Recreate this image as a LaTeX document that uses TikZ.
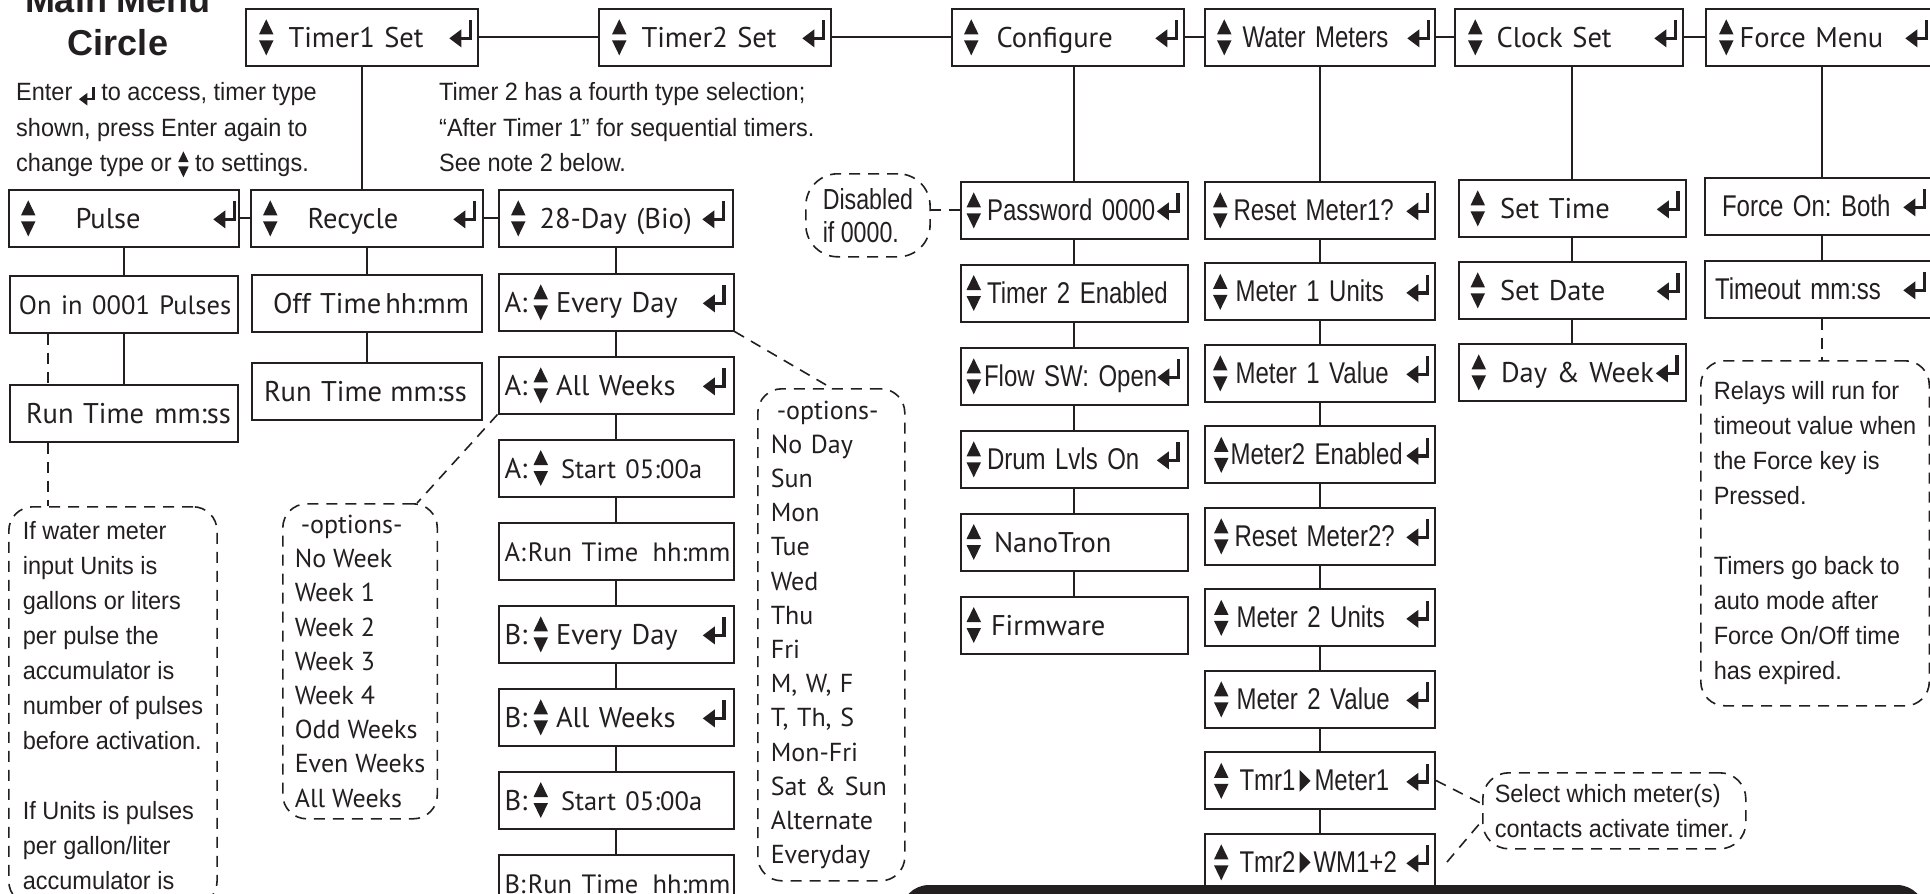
\documentclass[tikz,border=0pt]{standalone}
\usepackage{fontspec}
\setmainfont{PT Sans}
\newfontfamily\narrowfont[FakeStretch=0.80]{Liberation Sans}
\newfontfamily\notefont[FakeStretch=0.94]{Liberation Sans}
\newfontfamily\headfont{Liberation Sans}
\usetikzlibrary{positioning}
\definecolor{ink}{HTML}{231F20}
\frenchspacing

% key glyphs shown on the display
\newcommand{\updn}[1][1]{\tikz[x=#1pt,y=#1pt,baseline=0pt]{\fill[ink] (0,13)--(14.5,13)--(7.25,28)--cycle (0,7)--(14.5,7)--(7.25,-8)--cycle;}}
\newcommand{\entr}[1][1]{\tikz[x=#1pt,y=#1pt,baseline=0pt]{\fill[ink] (0,9)--(12,18)--(12,0)--cycle; \draw[ink,line width=#1*3.4pt,line join=miter] (21,27)--(21,9)--(10,9);}}
\newcommand{\rtri}{\tikz[x=1pt,y=1pt,baseline=0pt]{\fill[ink] (0,-1)--(0,21)--(11,10)--cycle;}}
\newcommand{\nw}[1]{{\narrowfont\fontsize{30}{34}\selectfont #1}}
\newcommand{\sm}[1]{{\fontsize{26.5}{34}\selectfont #1}}
\newcommand{\lrow}[1]{\hbox to\linewidth{\vrule height28pt depth8pt width0pt\relax#1}}

\begin{document}
\begin{tikzpicture}[x=1pt, y=-1pt, ink,
    menu/.style={draw=ink, fill=white, line width=2pt, inner sep=0pt, minimum height=57pt, text width=#1, font=\fontsize{28.5}{34}\selectfont},
    menu/.default=230pt,
    link/.style={draw=ink, line width=1.8pt},
    dashlink/.style={draw=ink, line width=1.6pt, dash pattern=on 11pt off 8pt},
    note/.style={draw=ink, line width=1.6pt, dash pattern=on 11pt off 8pt, rounded corners=24pt, align=left, anchor=north west, inner ysep=0pt, font=\notefont\fontsize{25}{35}\selectfont},
    optlist/.style={note, font=\fontsize{26}{34.2}\selectfont},
    plain/.style={align=left, anchor=base west, inner sep=0pt, font=\notefont\fontsize{25}{35.5}\selectfont}
  ]
  \useasboundingbox (0,0) rectangle (1930,894);
  \clip (0,0) rectangle (1930,894);

  % main menu circle
  \node[font=\headfont\bfseries\fontsize{36}{43}\selectfont, align=center, anchor=base] (title) at (118,55) {Main Menu\\Circle};
  \node[menu=232pt] (t1) at (362,37) {\lrow{\hskip13pt\updn\hskip15pt Timer1 Set\hfill\entr\hskip6pt}};
  \node[menu=232pt, right=119pt of t1] (t2) {\lrow{\hskip13pt\updn\hskip15pt Timer2 Set\hfill\entr\hskip6pt}};
  \node[menu=232pt, right=119pt of t2] (conf) {\lrow{\hskip12pt\updn\hskip18pt Configure\hfill\entr\hskip6pt}};
  \node[menu, right=19pt of conf] (wm) {\lrow{\hskip12pt\updn\hskip11pt\nw{Water Meters}\hfill\entr\hskip5pt}};
  \node[menu=228pt, right=18pt of wm] (clk) {\lrow{\hskip13pt\updn\hskip14pt Clock Set\hfill\entr\hskip6pt}};
  \node[menu=232pt, right=21pt of clk] (frc) {\lrow{\hskip13pt\updn\hskip6pt Force Menu\hfill\entr\hskip10pt}};

  \node[plain] (hint1) at (16,171.5) {Enter \raisebox{-5pt}{\entr[.7]} to access, timer type\\shown, press Enter again to\\change type or \updn[.72] to settings.};
  \node[plain] (hint2) at (439,171.5) {Timer 2 has a fourth type selection;\\“After Timer 1” for sequential timers.\\See note 2 below.};

  % timer types
  \node[menu] (pulse) at (124,218) {\lrow{\hskip12pt\updn\hskip40pt Pulse\hfill\entr\hskip3pt}};
  \node[menu=232pt, right=10pt of pulse] (recyc) {\lrow{\hskip12pt\updn\hskip30pt Recycle\hfill\entr\hskip7pt}};
  \node[menu=234pt, right=14pt of recyc] (bio) {\lrow{\hskip12pt\updn\hskip14pt 28-Day (Bio)\hfill\entr\hskip8pt}};

  % pulse
  \node[menu=228pt, below=27pt of pulse] (on) {\lrow{\hskip9pt\sm{On in 0001 Pulses}\hfill}};
  \node[menu=228pt, below=50pt of on] (run1) {\lrow{\hskip16pt Run Time\hfill mm:ss\hskip7pt}};
  \node[note, inner xsep=14pt, inner ysep=15pt] (wnote) at (8,506) {If water meter\\input Units is\\gallons or liters\\per pulse the\\accumulator is\\number of pulses\\before activation.\\[35pt]If Units is pulses\\per gallon/liter\\accumulator is};

  % recycle
  \node[menu, below=26pt of recyc] (off) {\lrow{\hskip21pt Off Time\hfill hh:mm\hskip13pt}};
  \node[menu, below=29pt of off] (run2) {\lrow{\hskip12pt Run Time\hfill mm:ss\hskip15pt}};

  % 28-day
  \node[menu=235pt, below=25pt of bio] (a1) {\lrow{\hskip6pt\makebox[29pt][l]{A:}\updn\hskip8pt Every Day\hfill\entr\hskip8pt}};
  \node[menu=235pt, below=24pt of a1] (a2) {\lrow{\hskip6pt\makebox[29pt][l]{A:}\updn\hskip8pt All Weeks\hfill\entr\hskip8pt}};
  \node[menu=235pt, below=24pt of a2] (a3) {\lrow{\hskip6pt\makebox[29pt][l]{A:}\updn\hskip13pt\sm{Start 05:00a}\hfill}};
  \node[menu=235pt, below=24pt of a3] (a4) {\lrow{\hskip6pt\sm{A:\hskip2pt Run Time\hfill hh:mm}\hskip3pt}};
  \node[menu=235pt, below=24pt of a4] (b1) {\lrow{\hskip6pt\makebox[29pt][l]{B:}\updn\hskip8pt Every Day\hfill\entr\hskip8pt}};
  \node[menu=235pt, below=24pt of b1] (b2) {\lrow{\hskip6pt\makebox[29pt][l]{B:}\updn\hskip8pt All Weeks\hfill\entr\hskip8pt}};
  \node[menu=235pt, below=24pt of b2] (b3) {\lrow{\hskip6pt\makebox[29pt][l]{B:}\updn\hskip13pt\sm{Start 05:00a}\hfill}};
  \node[menu=235pt, below=24pt of b3] (b4) {\lrow{\hskip6pt\sm{B:\hskip2pt Run Time\hfill hh:mm}\hskip3pt}};
  \node[optlist, inner xsep=12pt, minimum height=315pt] (wkopt) at (282,503) {\hspace*{6pt}-options-\\No Week\\Week 1\\Week 2\\Week 3\\Week 4\\Odd Weeks\\Even Weeks\\All Weeks};
  \node[optlist, inner xsep=13pt, text width=121pt, minimum height=492pt] (dyopt) at (757,388) {\hspace*{6pt}-options-\\No Day\\Sun\\Mon\\Tue\\Wed\\Thu\\Fri\\M, W, F\\T, Th, S\\Mon-Fri\\Sat \& Sun\\Alternate\\Everyday};

  % configure
  \node[menu=227pt, below=114pt of conf, xshift=6pt] (pass) {\lrow{\hskip6pt\updn\hskip6pt\nw{Password 0000}\hfill\entr\hskip8pt}};
  \node[menu=227pt, below=24pt of pass] (t2en) {\lrow{\hskip6pt\updn\hskip6pt\nw{Timer 2 Enabled}\hfill}};
  \node[menu=227pt, below=24pt of t2en] (flow) {\lrow{\hskip6pt\updn\hskip3pt\nw{Flow SW: Open}\hfill\entr\hskip8pt}};
  \node[menu=227pt, below=24pt of flow] (drum) {\lrow{\hskip6pt\updn\hskip6pt\nw{Drum Lvls On}\hfill\entr\hskip8pt}};
  \node[menu=227pt, below=24pt of drum] (nano) {\lrow{\hskip6pt\updn\hskip13pt NanoTron\hfill}};
  \node[menu=227pt, below=24pt of nano] (firm) {\lrow{\hskip6pt\updn\hskip10pt Firmware\hfill}};
  \node[note, font=\narrowfont\fontsize{29}{33}\selectfont, inner xsep=17pt, minimum height=83pt, rounded corners=32pt] (dis) at (805,173) {Disabled\\if 0000.};

  % water meters
  \node[menu, below=114pt of wm] (rm1) {\lrow{\hskip8pt\updn\hskip6pt\nw{Reset Meter1?}\hfill\entr\hskip6pt}};
  \node[menu, below=22.5pt of rm1] (m1u) {\lrow{\hskip8pt\updn\hskip8pt\nw{Meter 1 Units}\hfill\entr\hskip6pt}};
  \node[menu, below=22.5pt of m1u] (m1v) {\lrow{\hskip8pt\updn\hskip8pt\nw{Meter 1 Value}\hfill\entr\hskip6pt}};
  \node[menu, below=22.5pt of m1v] (m2e) {\lrow{\hskip9pt\updn\hskip2pt\nw{Meter2 Enabled}\hfill\entr\hskip6pt}};
  \node[menu, below=22.5pt of m2e] (rm2) {\lrow{\hskip9pt\updn\hskip6pt\nw{Reset Meter2?}\hfill\entr\hskip6pt}};
  \node[menu, below=22.5pt of rm2] (m2u) {\lrow{\hskip9pt\updn\hskip8pt\nw{Meter 2 Units}\hfill\entr\hskip6pt}};
  \node[menu, below=22.5pt of m2u] (m2v) {\lrow{\hskip9pt\updn\hskip8pt\nw{Meter 2 Value}\hfill\entr\hskip6pt}};
  \node[menu, below=22.5pt of m2v] (tmr1) {\lrow{\hskip9pt\updn\hskip11pt\nw{Tmr1}\hskip4pt\rtri\hskip4pt\nw{Meter1}\hfill\entr\hskip6pt}};
  \node[menu, below=22.5pt of tmr1] (tmr2) {\lrow{\hskip9pt\updn\hskip11pt\nw{Tmr2}\hskip4pt\rtri\hskip3pt\nw{WM1+2}\hfill\entr\hskip6pt}};
  \node[note, inner xsep=12pt, minimum height=76pt, rounded corners=26pt] (sel) at (1482,772) {Select which meter(s)\\contacts activate timer.};

  % clock
  \node[menu=227pt, below=112pt of clk, xshift=3pt] (stime) {\lrow{\hskip12pt\updn\hskip15pt Set Time\hfill\entr\hskip6pt}};
  \node[menu=227pt, below=23pt of stime] (sdate) {\lrow{\hskip12pt\updn\hskip15pt Set Date\hfill\entr\hskip6pt}};
  \node[menu=227pt, below=23pt of sdate] (dweek) {\lrow{\hskip13pt\updn\hskip15pt Day \& Week\hfill\entr\hskip7pt}};

  % force
  \node[menu=234pt, below=110pt of frc] (fon) {\lrow{\hskip17pt\nw{Force On: Both}\hfill\entr\hskip13pt}};
  \node[menu=234pt, below=24pt of fon] (tout) {\lrow{\hskip10pt\nw{Timeout mm:ss}\hfill\entr\hskip13pt}};
  \node[note, inner xsep=13pt, minimum height=345pt] (fnote) at (1700,360) {Relays will run for\\timeout value when\\the Force key is\\Pressed.\\[35pt]Timers go back to\\auto mode after\\Force On/Off time\\has expired.};

  % connectors
  \draw[link] (t1) -- (t2) (t2) -- (conf) (conf) -- (wm) (wm) -- (clk) (clk) -- (frc);
  \draw[link] (t1) -- (t1 |- recyc.north);
  \draw[link] (pulse) -- (recyc) (recyc) -- (bio);
  \draw[link] (pulse) -- (on) (on) -- (run1) (recyc) -- (off) (off) -- (run2);
  \draw[link] (bio) -- (a1) (a1) -- (a2) (a2) -- (a3) (a3) -- (a4) (a4) -- (b1) (b1) -- (b2) (b2) -- (b3) (b3) -- (b4);
  \draw[link] (pass) -- (pass |- conf.south) (pass) -- (t2en) (t2en) -- (flow) (flow) -- (drum) (drum) -- (nano) (nano) -- (firm);
  \draw[link] (rm1) -- (rm1 |- wm.south) (rm1) -- (m1u) (m1u) -- (m1v) (m1v) -- (m2e) (m2e) -- (rm2) (rm2) -- (m2u) (m2u) -- (m2v) (m2v) -- (tmr1) (tmr1) -- (tmr2);
  \draw[link] (stime) -- (stime |- clk.south) (stime) -- (sdate) (sdate) -- (dweek);
  \draw[link] (fon) -- (fon |- frc.south) (fon) -- (tout);

  % dashed call-outs
  \coordinate (wtap) at ([xshift=40pt]wnote.north west);
  \draw[dashlink] (on.south -| wtap) -- (run1.north -| wtap) (run1.south -| wtap) -- (wtap);
  \draw[dashlink] (pass.west) -- (pass.west -| dis.east);
  \draw[dashlink] (a1.south east) -- (dyopt.north);
  \draw[dashlink] (a2.south west) -- ([xshift=-21pt]wkopt.north east);
  \draw[dashlink] (tout) -- (tout |- fnote.north);
  \draw[dashlink] (tmr1.east) -- ([yshift=7pt]sel.west) ([xshift=11pt]tmr2.east) -- ([yshift=-10pt]sel.west);

  \fill[ink, rounded corners=28pt] (901,885) rectangle (1925,960);
\end{tikzpicture}
\end{document}
